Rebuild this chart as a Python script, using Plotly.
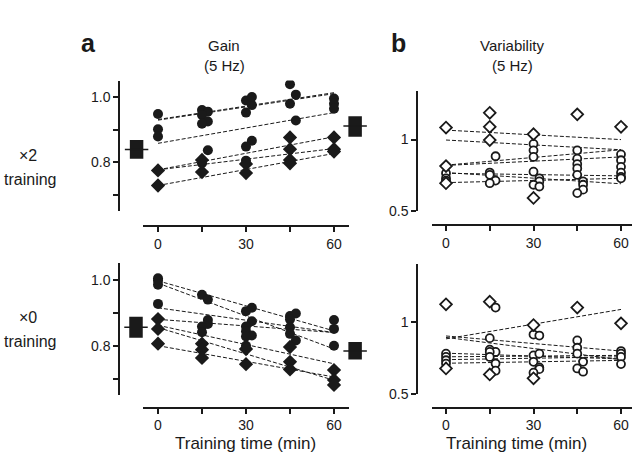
import plotly.graph_objects as go

W, H = 634, 465

# ---------------- data ----------------
TICK_TIMES = [0, 15, 30, 45, 60]
TICK_TEXT = ["0", "", "30", "", "60"]

# a, x2 training (gain)
TL_circ_t = [0, 0, 0, 15, 17, 15, 17, 15, 17, 15, 30, 32, 30, 32, 32, 30, 30, 45, 47, 45, 47, 60, 60, 60]
TL_circ_v = [0.948, 0.901, 0.879, 0.960, 0.955, 0.945, 0.925, 0.918, 0.837, 0.797,
             0.952, 0.975, 0.989, 1.000, 0.866, 0.848, 0.805, 1.039, 1.007, 0.979, 0.928,
             0.995, 0.979, 0.964]
TL_diam_t = [0, 0, 15, 15, 30, 30, 45, 45, 45, 45, 60, 60, 60]
TL_diam_v = [0.775, 0.729, 0.807, 0.770, 0.795, 0.767, 0.876, 0.840, 0.807, 0.797, 0.876, 0.840, 0.833]
TL_line_start = [0.929, 0.931, 0.858, 0.777, 0.777, 0.729]
TL_line_end = [1.010, 1.013, 0.952, 0.878, 0.842, 0.827]
TL_pre = [0.839, 0.811, 0.868]    # mean, low, high
TL_post = [0.911, 0.878, 0.941]

# a, x0 training (gain)
BL_circ_t = [0, 0, 0, 0, 15, 17, 17, 17, 15, 15, 30, 32, 32, 30, 30, 32, 30, 30,
             45, 47, 45, 45, 45, 47, 60, 60, 60]
BL_circ_v = [1.005, 0.997, 0.985, 0.927, 0.955, 0.940, 0.878, 0.866, 0.858, 0.841,
             0.905, 0.915, 0.874, 0.858, 0.844, 0.831, 0.828, 0.800,
             0.890, 0.898, 0.880, 0.856, 0.836, 0.816, 0.878, 0.851, 0.800]
BL_diam_t = [0, 0, 0, 15, 15, 15, 30, 30, 45, 45, 45, 60, 60, 60]
BL_diam_v = [0.881, 0.851, 0.806, 0.806, 0.788, 0.763, 0.790, 0.744, 0.796, 0.751, 0.728, 0.726, 0.696, 0.681]
BL_line_start = [0.997, 0.990, 0.915, 0.880, 0.855, 0.862, 0.800]
BL_line_end = [0.845, 0.790, 0.840, 0.840, 0.695, 0.745, 0.705]
BL_pre = [0.856, 0.824, 0.888]
BL_post = [0.784, 0.758, 0.811]

# b, x2 training (variability)
TR_circ_t = [0, 0, 0, 0, 17, 15, 15, 17, 15, 30, 30, 30, 30, 32, 32, 30, 32,
             45, 45, 45, 45, 45, 47, 47, 47, 45, 60, 60, 60, 60, 60, 60]
TR_circ_v = [0.765, 0.730, 0.714, 0.700, 0.884, 0.770, 0.754, 0.714, 0.696,
             0.970, 0.925, 0.879, 0.776, 0.730, 0.708, 0.685, 0.673,
             0.925, 0.867, 0.829, 0.799, 0.754, 0.708, 0.685, 0.651, 0.627,
             0.897, 0.856, 0.810, 0.769, 0.740, 0.730]
TR_diam_t = [0, 0, 0, 15, 15, 15, 30, 30, 45, 60]
TR_diam_v = [1.084, 0.815, 0.696, 1.187, 1.089, 0.997, 1.038, 0.593, 1.176, 1.089]
TR_line_start = [1.066, 0.997, 0.822, 0.820, 0.765, 0.770, 0.700]
TR_line_end = [1.000, 0.929, 0.929, 0.879, 0.747, 0.692, 0.730]

# b, x0 training (variability)
BR_circ_t = [0, 0, 0, 0, 17, 15, 15, 17, 15, 15, 17, 17, 30, 32, 30, 32, 30, 32, 32, 30,
             45, 45, 45, 47, 45, 47, 60, 60, 60, 60]
BR_circ_v = [0.782, 0.759, 0.736, 0.713, 1.103, 0.890, 0.810, 0.794, 0.794, 0.759, 0.713, 0.663,
             0.915, 0.908, 0.770, 0.782, 0.725, 0.686, 0.674, 0.649,
             0.874, 0.823, 0.782, 0.725, 0.679, 0.656, 0.800, 0.782, 0.759, 0.709]
BR_diam_t = [0, 0, 15, 15, 30, 30, 45, 60]
BR_diam_v = [1.126, 0.679, 1.144, 0.637, 0.981, 0.610, 1.103, 0.993]
BR_line_start = [0.885, 0.905, 0.895, 0.785, 0.760, 0.740, 0.715]
BR_line_end = [1.090, 0.800, 0.740, 0.745, 0.770, 0.760, 0.735]

# ---------------- layout helpers (window pixel -> paper) ----------------
def fx(px):
    return px / W

def fy(py):
    return 1 - py / H

INK = "#1a1a1a"
FONT = "Liberation Sans, Arial, sans-serif"

panels = [
    dict(k=1, ylx=119, yt=82, yb=215, yr=[0.65, 1.05], yv=[0.7, 0.8, 0.9, 1.0], ytx=["", "0.8", "", "1.0"],
         xay=230, xl=143, xr=349, x0=158, p15=44.0),
    dict(k=2, ylx=119, yt=268, yb=402, yr=[0.65, 1.05], yv=[0.7, 0.8, 0.9, 1.0], ytx=["", "0.8", "", "1.0"],
         xay=415, xl=143, xr=349, x0=158, p15=44.0),
    dict(k=3, ylx=417, yt=93, yb=215, yr=[0.5, 1.336], yv=[0.5, 1.0], ytx=["0.5", "1"],
         xay=229, xl=432, xr=632, x0=446, p15=43.75),
    dict(k=4, ylx=417, yt=269, yb=401, yr=[0.5, 1.404], yv=[0.5, 1.0], ytx=["0.5", "1"],
         xay=415, xl=432, xr=632, x0=446, p15=43.75),
]

fig = go.Figure()
layout = dict(width=W, height=H, margin=dict(l=0, r=0, t=0, b=0),
              paper_bgcolor="white", plot_bgcolor="rgba(0,0,0,0)",
              showlegend=False, barmode="overlay",
              font=dict(family=FONT, color=INK, size=13))

def p2d(p, px):
    return (px - p["x0"]) / p["p15"] * 15

for p in panels:
    k = p["k"]
    ax = k + 4
    data_right = 372 if k <= 2 else 634
    layout[f"xaxis{k}"] = dict(domain=[fx(p["ylx"]), fx(data_right)],
                               range=[p2d(p, p["ylx"]), p2d(p, data_right)],
                               visible=False, anchor=f"y{k}")
    layout[f"yaxis{k}"] = dict(domain=[fy(p["yb"]), fy(p["yt"])], range=p["yr"],
                               anchor="free", position=fx(p["ylx"]),
                               showline=True, linecolor=INK, linewidth=1.5,
                               ticks="outside", ticklen=5, tickwidth=1.5, tickcolor=INK,
                               tickvals=p["yv"], ticktext=p["ytx"],
                               showgrid=False, zeroline=False,
                               tickfont=dict(size=14, family=FONT, color=INK))
    layout[f"xaxis{ax}"] = dict(domain=[fx(p["xl"]), fx(p["xr"])],
                                range=[p2d(p, p["xl"]), p2d(p, p["xr"])],
                                anchor="free", position=fy(p["xay"]),
                                showline=True, linecolor=INK, linewidth=1.5,
                                ticks="outside", ticklen=5, tickwidth=1.5, tickcolor=INK,
                                tickvals=TICK_TIMES, ticktext=TICK_TEXT,
                                showgrid=False, zeroline=False,
                                tickfont=dict(size=14, family=FONT, color=INK))
    fig.add_trace(go.Scatter(x=[None], y=[None], xaxis=f"x{ax}", yaxis=f"y{k}",
                             mode="markers", hoverinfo="skip"))

def add_lines(k, starts, ends):
    for s, e in zip(starts, ends):
        fig.add_trace(go.Scatter(x=[0, 60], y=[s, e], mode="lines", xaxis=f"x{k}", yaxis=f"y{k}",
                                 line=dict(color=INK, width=1, dash="4px,2px"), hoverinfo="skip"))

def add_points(k, t, v, symbol, filled):
    if filled:
        mk = dict(symbol=symbol, size=10 if symbol == "circle" else 11, color=INK, line=dict(width=0))
    else:
        mk = dict(symbol=symbol, size=8 if symbol == "circle" else 9, color="white",
                  line=dict(color=INK, width=1.8))
    fig.add_trace(go.Scatter(x=t, y=v, mode="markers", xaxis=f"x{k}", yaxis=f"y{k}", marker=mk,
                             hoverinfo="skip"))

def add_box(k, xc, stats):
    mean, lo, hi = stats
    fig.add_trace(go.Bar(x=[xc], y=[hi - lo], base=[lo], width=[4.6], xaxis=f"x{k}", yaxis=f"y{k}",
                         marker=dict(color=INK, line=dict(width=0)), hoverinfo="skip"))
    fig.add_trace(go.Scatter(x=[xc - 4.0, xc + 4.0], y=[mean, mean], mode="lines",
                             xaxis=f"x{k}", yaxis=f"y{k}", line=dict(color=INK, width=1.5),
                             hoverinfo="skip"))

add_lines(1, TL_line_start, TL_line_end)
add_points(1, TL_circ_t, TL_circ_v, "circle", True)
add_points(1, TL_diam_t, TL_diam_v, "diamond", True)
add_box(1, -7.3, TL_pre)
add_box(1, 67.2, TL_post)

add_lines(2, BL_line_start, BL_line_end)
add_points(2, BL_circ_t, BL_circ_v, "circle", True)
add_points(2, BL_diam_t, BL_diam_v, "diamond", True)
add_box(2, -7.5, BL_pre)
add_box(2, 67.2, BL_post)

add_lines(3, TR_line_start, TR_line_end)
add_points(3, TR_circ_t, TR_circ_v, "circle", False)
add_points(3, TR_diam_t, TR_diam_v, "diamond", False)

add_lines(4, BR_line_start, BR_line_end)
add_points(4, BR_circ_t, BR_circ_v, "circle", False)
add_points(4, BR_diam_t, BR_diam_v, "diamond", False)

def txt(px, py, s, size, bold=False):
    return dict(x=fx(px), y=fy(py), xref="paper", yref="paper", text=(f"<b>{s}</b>" if bold else s),
                showarrow=False, xanchor="center", yanchor="middle", borderpad=0,
                font=dict(size=size, family=FONT, color=INK))

layout["annotations"] = [
    txt(88, 44, "a", 25, True),
    txt(224, 46, "Gain", 15),
    txt(224, 67, "(5 Hz)", 15),
    txt(398, 44, "b", 25, True),
    txt(512, 46, "Variability", 15),
    txt(512, 67, "(5 Hz)", 15),
    txt(28, 158, "×2", 16),
    txt(30, 183, "training", 16),
    txt(28, 323, "×0", 16),
    txt(30, 347, "training", 16),
    txt(246, 451, "Training time (min)", 17),
    txt(516, 451, "Training time (min)", 17),
]

fig.update_layout(**layout)
fig.write_html("out.html", config={"displayModeBar": False},
               post_script="document.body.style.margin='0px';")
